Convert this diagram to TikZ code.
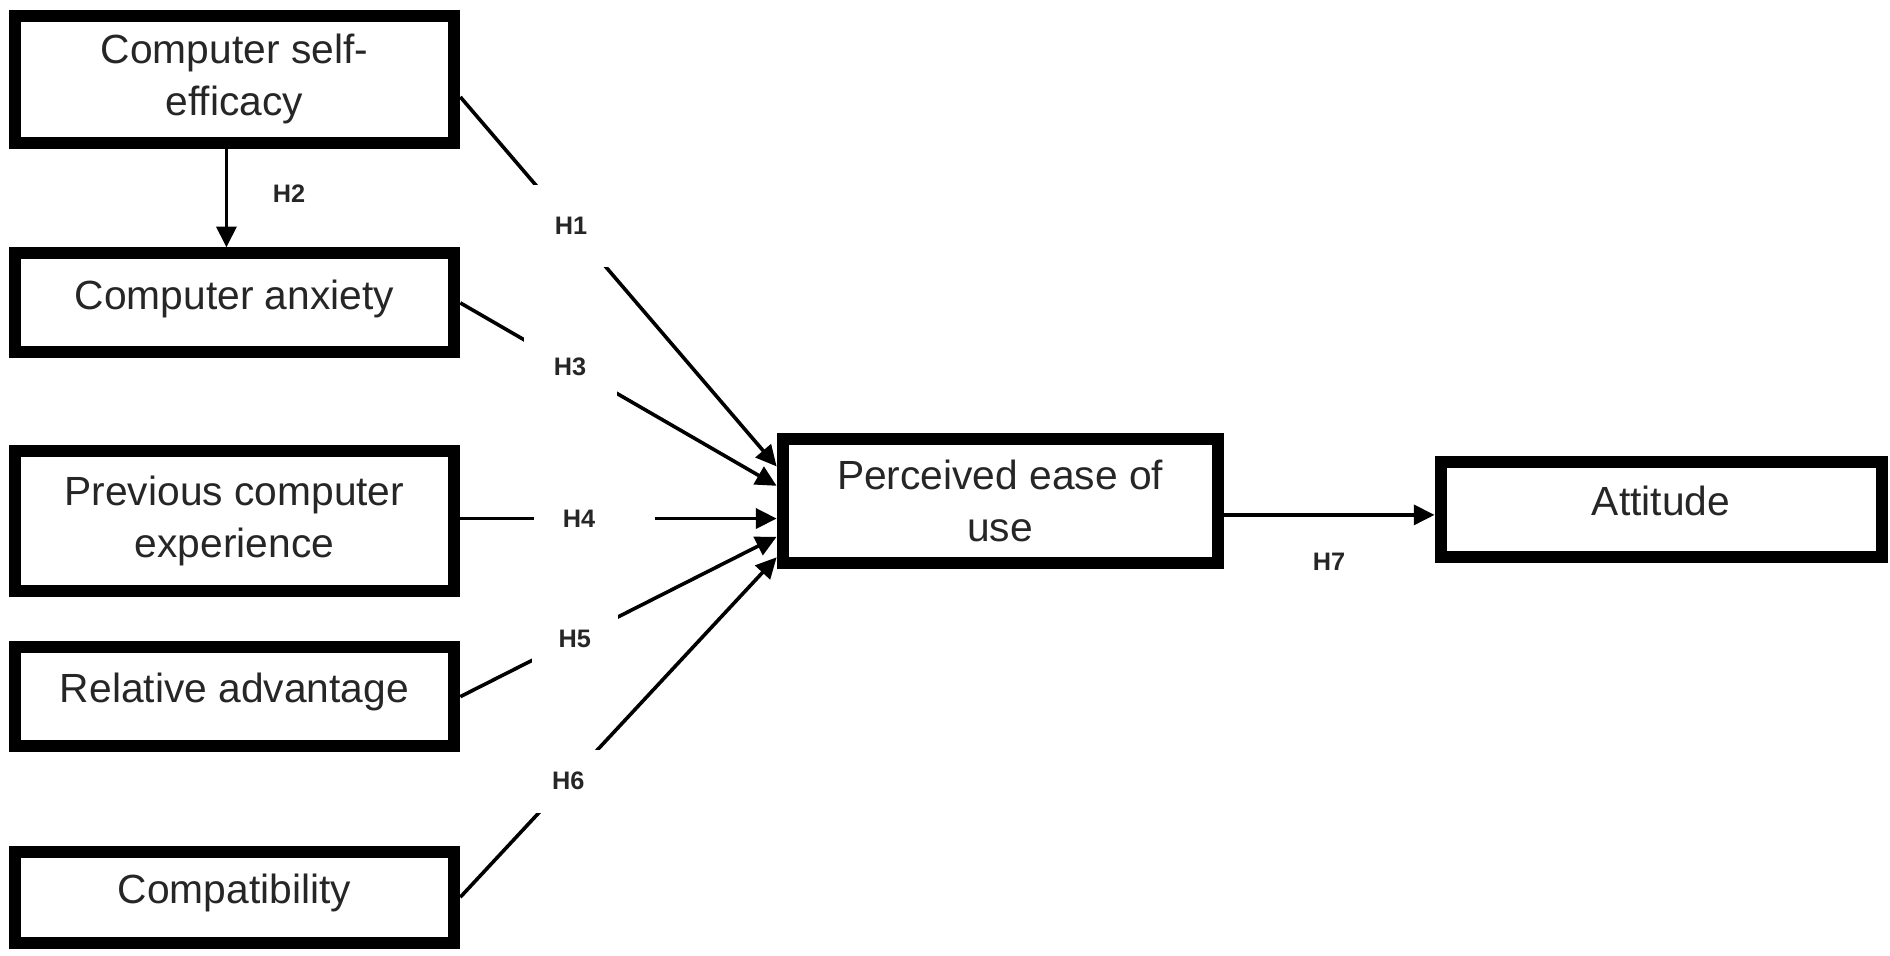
\documentclass[tikz,border=0pt]{standalone}
\usepackage{fontspec}
\setmainfont{Liberation Sans}
\usetikzlibrary{arrows.meta, calc}

\begin{document}
\begin{tikzpicture}[x=0.0303cm, y=-0.0303cm,
  box/.style={draw, line width=0.3cm, minimum width=11cm, inner sep=0pt, align=center, font=\fontsize{29}{37}\selectfont, text=black!85},
  onel/.style={text height=22pt, text depth=13pt},
  hyp/.style={line width=0.09cm, -{Triangle[length=0.52cm, width=0.5cm]}},
  hfont/.style={font=\bfseries\fontsize{18}{18}\selectfont, text=black!85},
  lab/.style={hfont, fill=white, inner sep=0pt, minimum width=2.12cm, minimum height=2.06cm}]
\useasboundingbox (0,0) rectangle (1560,789);

\node[box, minimum height=3.18cm] (cse) at (193.5,65.5) {Computer self-\\efficacy};
\node[box, onel, minimum height=2.48cm] (ca) at (193.5,250) {Computer anxiety};
\node[box, minimum height=3.51cm] (pce) at (193.5,430) {Previous computer\\experience};
\node[box, onel, minimum height=2.48cm] (ra) at (193.5,575) {Relative advantage};
\node[box, onel, minimum height=2.27cm] (comp) at (193.5,740.5) {Compatibility};
\node[box, minimum width=10.88cm, minimum height=3.12cm] (peou) at (825.5,413.5) {Perceived ease of\\use};
\node[box, onel, minimum width=11.03cm, minimum height=2.39cm] (att) at (1371,420.5) {Attitude};

\coordinate (in1) at ($(peou.west)+(0,-28.5)$);
\coordinate (in3) at ($(peou.west)+(0,-12.5)$);
\coordinate (in4) at ($(peou.west)+(0,14.5)$);
\coordinate (in5) at ($(peou.west)+(0,29.5)$);
\coordinate (in6) at ($(peou.west)+(0,46.5)$);
\coordinate (out7) at ($(peou.east)+(0,11.5)$);

\draw[hyp] ([xshift=-0.2cm]cse.south) -- node[right, pos=.45, xshift=1cm, hfont]{H2} ([xshift=-0.2cm]ca.north);
\draw[hyp] ($(cse.east)+(0,14.5)$) -- node[lab, pos=.35]{H1} (in1);
\draw[hyp] (ca.east) -- node[lab, pos=.347, minimum width=2.33cm]{H3} (in3);
\draw[hyp] (pce.east |- in4) -- node[lab, pos=.425, minimum width=3.03cm, minimum height=1cm]{} node[pos=.375, hfont]{H4} (in4);
\draw[hyp] (ra.east) -- node[lab, pos=.362, minimum width=2.15cm]{H5} (in5);
\draw[hyp] (comp.east) -- node[lab, pos=.341, minimum height=1.58cm]{H6} (in6);
\draw[hyp] (out7) -- node[below, yshift=-0.8cm, hfont]{H7} (att.west |- out7);
\end{tikzpicture}
\end{document}
